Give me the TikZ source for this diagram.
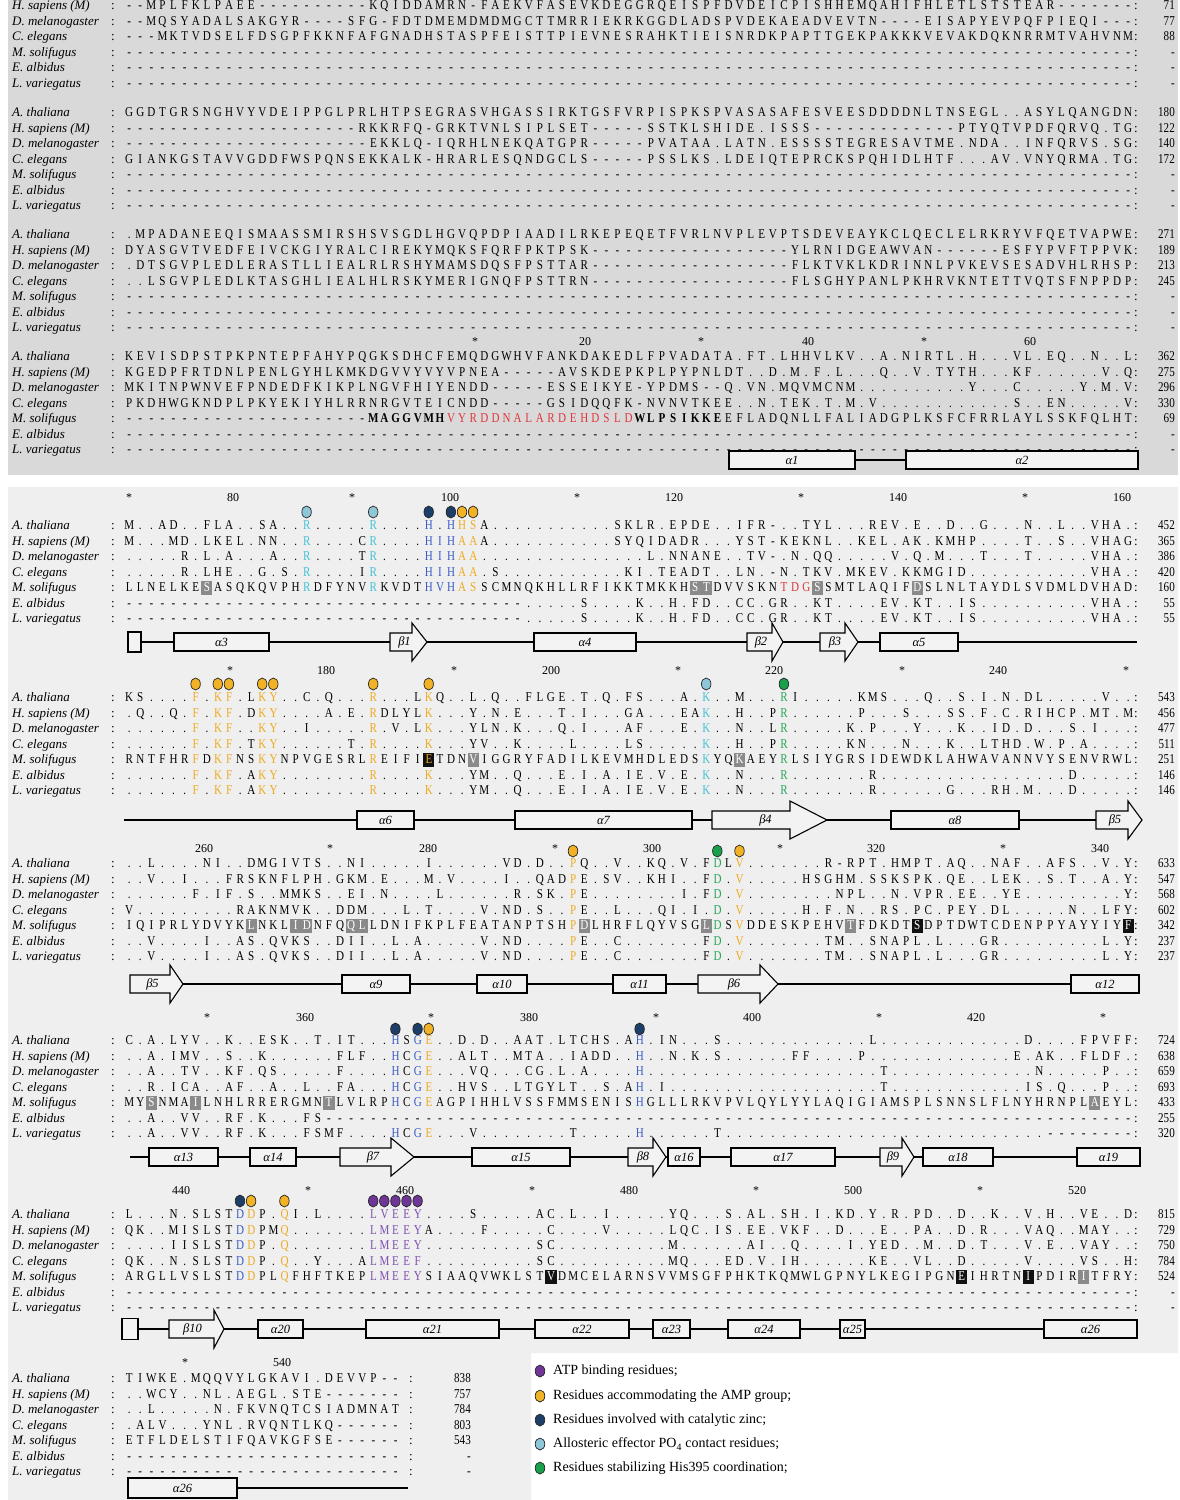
\documentclass[tikz,border=0pt]{standalone}
\usepackage{fontspec}
\setmainfont{Liberation Serif}
\newfontfamily\seqfont{Liberation Serif}[FakeStretch=0.82]
\usetikzlibrary{shapes.geometric}

\definecolor{panelA}{HTML}{D9D9D9}
\definecolor{panelB}{HTML}{EEEFEE}
\definecolor{rescyan}{HTML}{45C1D6}
\definecolor{resblue}{HTML}{3B5BC4}
\definecolor{resorange}{HTML}{EEAA22}
\definecolor{resgreen}{HTML}{2AA65A}
\definecolor{respurple}{HTML}{7D4FB0}
\definecolor{resred}{HTML}{E0353B}
\definecolor{hlgrey}{HTML}{8A8A8A}
\definecolor{hlblack}{HTML}{111111}
\definecolor{matp}{HTML}{6F3597}
\definecolor{mamp}{HTML}{F2B226}
\definecolor{mzn}{HTML}{1D3E66}
\definecolor{mpo}{HTML}{8EC8D8}
\definecolor{mhis}{HTML}{19A04B}
\definecolor{ssfill}{HTML}{F3F3F3}

\newlength\colw
\setlength\colw{11.1pt}
\setlength\fboxsep{0pt}

% residue colours and shading
\newcommand\rCy[1]{\textcolor{rescyan}{#1}}
\newcommand\rBl[1]{\textcolor{resblue}{#1}}
\newcommand\rOg[1]{\textcolor{resorange}{#1}}
\newcommand\rGn[1]{\textcolor{resgreen}{#1}}
\newcommand\rPu[1]{\textcolor{respurple}{#1}}
\newcommand\rRd[1]{\textcolor{resred}{#1}}
\newcommand\hlres[3]{\colorbox{#1}{\makebox[\colw]{\rule[-3.5pt]{0pt}{14pt}\textcolor{#2}{#3}}}}
\newcommand\rGy[1]{\hlres{hlgrey}{white}{#1}}
\newcommand\rBk[1]{\hlres{hlblack}{white}{#1}}
\newcommand\rBo[1]{\hlres{hlblack}{resorange}{#1}}

% one residue per column
\makeatletter
\newcommand\sqline[1]{\@tfor\sq@c:=#1\do{\expandafter\sq@put\sq@c\relax\@nil}}
\def\sq@put#1#2\@nil{\let\sq@next\sq@box
  \ifx#1\sqrun\let\sq@next\@firstofone\fi
  \ifx#1\sqgap\let\sq@next\@firstofone\fi
  \sq@next{#1#2}}
\def\sq@box#1{\makebox[\colw]{#1}}
\newcommand\sqrun[2]{\@tfor\sq@d:=#2\do{\makebox[\colw]{#1{\sq@d}}}}
\newcommand\sqgap[1]{{\count@=\z@\loop\ifnum\count@<#1\relax\makebox[\colw]{-}\advance\count@\@ne\repeat}}
\makeatother

% id, baseline, species, residues, end
\newcommand\seqrow[5]{%
  \node[spname] (#1-n) at (12,#2) {#3};
  \node[spcolon] (#1-c) at (113,#2) {:};
  \node[seqtext] (#1-s) at (123.45,#2) {\sqline{#4}};
  \node[spcolon] (#1-k) at (1136,#2) {:};
  \node[endnum] (#1-e) at (1175,#2) {#5};
}
\newcommand\seqrowshort[5]{%
  \node[spname] (#1-n) at (12,#2) {#3};
  \node[spcolon] (#1-c) at (113,#2) {:};
  \node[seqtext] (#1-s) at (123.45,#2) {\sqline{#4}};
  \node[spcolon] (#1-k) at (411,#2) {:};
  \node[endnum] (#1-e) at (471,#2) {#5};
}
% name, x1, x2, tip, y, label
\newcommand\strand[6]{%
  \draw[strandbox] (#2,#5-9) -- (#3,#5-9) -- (#3,#5-19) -- (#4,#5) -- (#3,#5+19) -- (#3,#5+9) -- (#2,#5+9) -- cycle;
  \node[sslabel] (#1) at ({(#2+#4)/2-4},#5) {#6};
}

\begin{document}
\begin{tikzpicture}[
    x=1pt, y=-1pt,
    spname/.style={anchor=base west, inner sep=0pt, font=\fontsize{13}{15}\selectfont\itshape},
    spcolon/.style={anchor=base, inner sep=0pt, font=\fontsize{13}{15}\selectfont},
    seqtext/.style={anchor=base west, inner sep=0pt, font=\seqfont\fontsize{13.5}{15}\selectfont},
    endnum/.style={anchor=base east, inner sep=0pt, font=\seqfont\fontsize{13.5}{15}\selectfont},
    ruler/.style={anchor=base, inner sep=0pt, font=\fontsize{12}{14}\selectfont},
    resmark/.style={ellipse, draw=black!85, line width=0.7pt, minimum width=9.5pt, minimum height=12pt, inner sep=0pt},
    helix/.style={rectangle, draw=black, line width=1.1pt, fill=ssfill, minimum height=18pt, inner sep=0pt, font=\fontsize{12.5}{14}\selectfont\itshape},
    strandbox/.style={draw=black, line width=1.1pt, fill=ssfill, line join=miter},
    sslabel/.style={inner sep=0pt, font=\fontsize{12.5}{14}\selectfont\itshape},
    ssline/.style={line width=2pt},
    legtext/.style={anchor=west, inner sep=0pt, font=\fontsize{14}{16}\selectfont}
]

% Canvas and panels
\useasboundingbox (0,0) rectangle (1180,1500);
\fill[white] (0,0) rectangle (1180,1500);
\fill[panelA] (8,0) rectangle (1178,474.5);
\fill[panelB] (8,487) -- (1178,487) -- (1178,1353) -- (531,1353) -- (531,1500) -- (8,1500) -- cycle;

% Block 1
\seqrow{b1hs}{9.5}{H. sapiens (M)}{--MPLFKLPAEE{\sqgap{10}}KQIDDAMRN-FAEKVFASEVKDEGGRQEISPFDVDEICPISHHEMQAHIFHLETLSTSTEAR{\sqgap{7}}}{71}
\seqrow{b1dm}{25}{D. melanogaster}{--MQSYADALSAKGYR----SFG-FDTDMEMDMDMGCTTMRRIEKRKGGDLADSPVDEKAEADVEVTN----EISAPYEVPQFPIEQI---}{77}
\seqrow{b1ce}{40.5}{C. elegans}{---MKTVDSELFDSGPFKKNFAFGNADHSTASPFEISTTPIEVNESRAHKTIEISNRDKPAPTTGEKPAKKKVEVAKDQKNRRMTVAHVNM}{88}
\seqrow{b1ms}{56}{M. solifugus}{{\sqgap{91}}}{-}
\seqrow{b1ea}{71.5}{E. albidus}{{\sqgap{91}}}{-}
\seqrow{b1lv}{87}{L. variegatus}{{\sqgap{91}}}{-}

% Block 2
\seqrow{b2at}{116.5}{A. thaliana}{GGDTGRSNGHVYVDEIPPGLPRLHTPSEGRASVHGASSIRKTGSFVRPISPKSPVASASAFESVEESDDDDNLTNSEGL..ASYLQANGDN}{180}
\seqrow{b2hs}{132}{H. sapiens (M)}{{\sqgap{21}}RKKRFQ-GRKTVNLSIPLSET{\sqgap{5}}SSTKLSHIDE.ISSS{\sqgap{13}}PTYQTVPDFQRVQ.TG}{122}
\seqrow{b2dm}{147.5}{D. melanogaster}{{\sqgap{22}}EKKLQ-IQRHLNEKQATGPR{\sqgap{5}}PVATAA.LATN.ESSSSTEGRESAVTME.NDA..INFQRVS.SG}{140}
\seqrow{b2ce}{163}{C. elegans}{GIANKGSTAVVGDDFWSPQNSEKKALK-HRARLESQNDGCLS{\sqgap{5}}PSSLKS.LDEIQTEPRCKSPQHIDLHTF...AV.VNYQRMA.TG}{172}
\seqrow{b2ms}{178.5}{M. solifugus}{{\sqgap{91}}}{-}
\seqrow{b2ea}{194}{E. albidus}{{\sqgap{91}}}{-}
\seqrow{b2lv}{209.5}{L. variegatus}{{\sqgap{91}}}{-}

% Block 3
\seqrow{b3at}{238.5}{A. thaliana}{.MPADANEEQISMAASSMIRSHSVSGDLHGVQPDPIAADILRKEPEQETFVRLNVPLEVPTSDEVEAYKCLQECLELRKRYVFQETVAPWE}{271}
\seqrow{b3hs}{254}{H. sapiens (M)}{DYASGVTVEDFEIVCKGIYRALCIREKYMQKSFQRFPKTPSK{\sqgap{18}}YLRNIDGEAWVAN{\sqgap{6}}ESFYPVFTPPVK}{189}
\seqrow{b3dm}{269.5}{D. melanogaster}{.DTSGVPLEDLERASTLLIEALRLRSHYMAMSDQSFPSTTAR{\sqgap{18}}FLKTVKLKDRINNLPVKEVSESADVHLRHSP}{213}
\seqrow{b3ce}{285}{C. elegans}{..LSGVPLEDLKTASGHLIEALHLRSKYMERIGNQFPSTTRN{\sqgap{18}}FLSGHYPANLPKHRVKNTETTVQTSFNPPDP}{245}
\seqrow{b3ms}{300.5}{M. solifugus}{{\sqgap{91}}}{-}
\seqrow{b3ea}{316}{E. albidus}{{\sqgap{91}}}{-}
\seqrow{b3lv}{331.5}{L. variegatus}{{\sqgap{91}}}{-}

% Block 4
\foreach \x/\t [count=\i] in {475/*,585/20,701/*,808/40,924/*,1030/60}
  \node[ruler] (r4-\i) at (\x,345) {\t};
\seqrow{b4at}{360.5}{A. thaliana}{KEVISDPSTPKPNTEPFAHYPQGKSDHCFEMQDGWHVFANKDAKEDLFPVADATA.FT.LHHVLKV..A.NIRTL.H...VL.EQ..N..L}{362}
\seqrow{b4hs}{376}{H. sapiens (M)}{KGEDPFRTDNLPENLGYHLKMKDGVVYVYVPNEA{\sqgap{5}}AVSKDEPKPLPYPNLDT..D.M.F.L...Q..V.TYTH...KF......V.Q}{275}
\seqrow{b4dm}{391.5}{D. melanogaster}{MKITNPWNVEFPNDEDFKIKPLNGVFHIYENDD{\sqgap{5}}ESSEIKYE-YPDMS--Q.VN.MQVMCNM..........Y...C.....Y.M.V}{296}
\seqrow{b4ce}{407}{C. elegans}{PKDHWGKNDPLPKYEKIYHLRRNRGVTEICNDD{\sqgap{5}}GSIDQQFK-NVNVTKEE..N.TEK.T.M.V............S..EN.....V}{330}
\seqrow{b4ms}{422.5}{M. solifugus}{{\sqgap{22}}{\sqrun\bfseries{MAGGVMH}}{\sqrun\rRd{VYRDDNALARDEHDSLD}}{\sqrun\bfseries{WLPSIKKE}}EFLADQNLLFALIADGPLKSFCFRRLAYLSSKFQLHT}{69}
\seqrow{b4ea}{438}{E. albidus}{{\sqgap{91}}}{-}
\seqrow{b4lv}{453.5}{L. variegatus}{{\sqgap{91}}}{-}
\coordinate (s4a) at (855,460);
\coordinate (s4b) at (906,460);
\draw[ssline] (s4a) -- (s4b);
\node[helix, minimum width=126pt] (a1) at (792,460) {α1};
\node[helix, minimum width=232pt] (a2) at (1022,460) {α2};

% Block 5
\foreach \x/\t [count=\i] in {129/*,233/80,352/*,450/100,577/*,674/120,801/*,898/140,1025/*,1122/160}
  \node[ruler] (r5-\i) at (\x,501) {\t};
\foreach \k/\c [count=\i] in {17/mpo,23/mpo,28/mzn,30/mzn,31/mamp,32/mamp}
  \node[resmark, fill=\c] (m5-\i) at ({129+(\k-1)*11.1},512) {};
\seqrow{b5at}{529.5}{A. thaliana}{M..AD..FLA..SA..{\rCy R}.....{\rCy R}....{\rBl H}.{\rBl H}{\rOg H}{\rOg S}A...........SKLR.EPDE..IFR-..TYL...REV.E..D..G...N..L..VHA.}{452}
\seqrow{b5hs}{545}{H. sapiens (M)}{M...MD.LKEL.NN..{\rCy R}....C{\rCy R}....{\rBl H}{\rBl I}{\rBl H}{\rOg A}{\rOg A}A...........SYQIDADR...YST-KEKNL..KEL.AK.KMHP....T..S..VHAG}{365}
\seqrow{b5dm}{560.5}{D. melanogaster}{.....R.L.A...A..{\rCy R}....T{\rCy R}....{\rBl H}{\rBl I}{\rBl H}{\rOg A}{\rOg A}...............L.NNANE..TV-.N.QQ.....V.Q.M...T...T.....VHA.}{386}
\seqrow{b5ce}{576}{C. elegans}{.....R.LHE..G.S.{\rCy R}....I{\rCy R}....{\rBl H}{\rBl I}{\rBl H}{\rOg A}{\rOg A}.S...........KI.TEADT..LN.-N.TKV.MKEV.KKMGID...........VHA.}{420}
\seqrow{b5ms}{591.5}{M. solifugus}{LLNELKE{\rGy S}ASQKQVPH{\rCy R}DFYNV{\rCy R}KVDT{\rBl H}{\rBl V}{\rBl H}{\rOg A}{\rOg S}SCMNQKHLLRFIKKTMKKH{\rGy S}{\rGy T}DVVSKN{\rRd T}{\rRd D}{\rRd G}{\rGy S}SMTLAQIF{\rGy D}SLNLTAYDLSVDMLDVHAD}{160}
\seqrow{b5ea}{607}{E. albidus}{{\sqgap{36}}.....S....K..H.FD..CC.GR..KT....EV.KT..IS..........VHA.}{55}
\seqrow{b5lv}{622.5}{L. variegatus}{{\sqgap{36}}.....S....K..H.FD..CC.GR..KT....EV.KT..IS..........VHA.}{55}
\coordinate (s5a) at (141,642);
\coordinate (s5b) at (1137,642);
\draw[ssline] (s5a) -- (s5b);
\node[helix, minimum width=13pt, minimum height=20pt] (h5x) at (134.5,642) {};
\node[helix, minimum width=95pt] (a3) at (221.5,642) {α3};
\strand{b1}{390}{412}{427}{642}{β1}
\node[helix, minimum width=102pt] (a4) at (585,642) {α4};
\strand{b2}{747}{772}{783}{642}{β2}
\strand{b3}{820}{845}{858}{642}{β3}
\node[helix, minimum width=78pt] (a5) at (919,642) {α5};

% Block 6
\foreach \x/\t [count=\i] in {230/*,326/180,454/*,551/200,678/*,774/220,902/*,998/240,1126/*}
  \node[ruler] (r6-\i) at (\x,674) {\t};
\foreach \k/\c [count=\i] in {7/mamp,9/mamp,10/mamp,13/mamp,14/mamp,23/mamp,28/mamp,53/mpo,60/mhis}
  \node[resmark, fill=\c] (m6-\i) at ({129+(\k-1)*11.1},684) {};
\seqrow{b6at}{701.5}{A. thaliana}{KS....{\rOg F}.{\rOg K}{\rOg F}.L{\rOg K}{\rOg Y}..C.Q...{\rOg R}...L{\rOg K}Q..L.Q..FLGE.T.Q.FS...A.{\rCy K}..M...{\rGn R}I.....KMS...Q..S.I.N.DL.....V..}{543}
\seqrow{b6hs}{717}{H. sapiens (M)}{.Q..Q.{\rOg F}.{\rOg K}{\rOg F}.D{\rOg K}{\rOg Y}....A.E.{\rOg R}DLYL{\rOg K}...Y.N.E...T.I...GA...EA{\rCy K}..H..P{\rGn R}......P...S...SS.F.C.RIHCP.MT.M}{456}
\seqrow{b6dm}{732.5}{D. melanogaster}{......{\rOg F}.{\rOg K}{\rOg F}..{\rOg K}{\rOg Y}..I.....{\rOg R}.V.L{\rOg K}...YLN.K...Q.I...AF...E.{\rCy K}..N..L{\rGn R}.....K.P...Y...K..ID.D...S.I...}{477}
\seqrow{b6ce}{748}{C. elegans}{......{\rOg F}.{\rOg K}{\rOg F}.T{\rOg K}{\rOg Y}......T.{\rOg R}....{\rOg K}...YV..K....L....LS.....{\rCy K}..H..P{\rGn R}.....KN...N...K..LTHD.W.P.A....}{511}
\seqrow{b6ms}{763.5}{M. solifugus}{RNTFHR{\rOg F}D{\rOg K}{\rOg F}NS{\rOg K}{\rOg Y}NPVGESRL{\rOg R}EIFI{\rBo E}TDN{\rGy V}IGGRYFADILKEVMHDLEDS{\rCy K}YQ{\rGy K}AEY{\rGn R}LSIYGRSIDEWDKLAHWAVANNVYSENVRWL}{251}
\seqrow{b6ea}{779}{E. albidus}{......{\rOg F}.{\rOg K}{\rOg F}.A{\rOg K}{\rOg Y}........{\rOg R}....{\rOg K}...YM..Q...E.I.A.IE.V.E.{\rCy K}..N...{\rGn R}.......R.................D.....}{146}
\seqrow{b6lv}{794.5}{L. variegatus}{......{\rOg F}.{\rOg K}{\rOg F}.A{\rOg K}{\rOg Y}........{\rOg R}....{\rOg K}...YM..Q...E.I.A.IE.V.E.{\rCy K}..N...{\rGn R}.......R......G...RH.M...D.....}{146}
\coordinate (s6a) at (124,820);
\coordinate (s6b) at (1096,820);
\draw[ssline] (s6a) -- (s6b);
\node[helix, minimum width=57pt] (a6) at (385.5,820) {α6};
\node[helix, minimum width=177pt] (a7) at (603.5,820) {α7};
\strand{b4}{712}{790}{827}{820}{β4}
\node[helix, minimum width=128pt] (a8) at (955,820) {α8};
\strand{b5}{1096}{1128}{1142}{820}{β5}

% Block 7
\foreach \x/\t [count=\i] in {204/260,330/*,428/280,555/*,652/300,780/*,876/320,1003/*,1100/340}
  \node[ruler] (r7-\i) at (\x,852) {\t};
\foreach \k/\c [count=\i] in {41/mamp,54/mhis,56/mamp}
  \node[resmark, fill=\c] (m7-\i) at ({129+(\k-1)*11.1},851) {};
\seqrow{b7at}{867.5}{A. thaliana}{..L....NI..DMGIVTS..NI.....I......VD.D..{\rOg P}Q..V..KQ.V.F{\rGn D}L{\rOg V}.......R-RPT.HMPT.AQ..NAF..AFS..V.Y}{633}
\seqrow{b7hs}{883}{H. sapiens (M)}{..V..I...FRSKNFLPH.GKM.E...M.V....I..QAD{\rOg P}E.SV..KHI..F{\rGn D}.{\rOg V}.....HSGHM.SSKSPK.QE..LEK..S.T..A.Y}{547}
\seqrow{b7dm}{898.5}{D. melanogaster}{......F.IF.S..MMKS..EI.N....L......R.SK.{\rOg P}E........I.F{\rGn D}.{\rOg V}........NPL..N.VPR.EE..YE.........Y}{568}
\seqrow{b7ce}{914}{C. elegans}{V.........RAKNMVK..DDM...L.T....V.ND.S..{\rOg P}E..L...QI.I.{\rGn D}.{\rOg V}.....H.F.N..RS.PC.PEY.DL.....N..LFY}{602}
\seqrow{b7ms}{929.5}{M. solifugus}{IQIPRLYDVYK{\rGy L}NKL{\rGy I}{\rGy D}NFQ{\rGy Q}{\rGy L}LDNIFKPLFEATANPTSH{\rOg P}{\rGy D}LHRFLQYVSG{\rGy L}{\rGn D}S{\rOg V}DDESKPEHV{\rGy T}FDKDT{\rBk S}DPTDWTCDENPPYAYYIY{\rBk F}}{342}
\seqrow{b7ea}{945}{E. albidus}{..V....I..AS.QVKS..DII..L.A.....V.ND....{\rOg P}E..C.......F{\rGn D}.{\rOg V}.......TM..SNAPL.L...GR.........L.Y}{237}
\seqrow{b7lv}{960.5}{L. variegatus}{..V....I..AS.QVKS..DII..L.A.....V.ND....{\rOg P}E..C.......F{\rGn D}.{\rOg V}.......TM..SNAPL.L...GR.........L.Y}{237}
\coordinate (s7a) at (170,984);
\coordinate (s7b) at (1071,984);
\draw[ssline] (s7a) -- (s7b);
\strand{b5b}{130}{170}{183}{984}{β5}
\node[helix, minimum width=68pt] (a9) at (376,984) {α9};
\node[helix, minimum width=50pt] (a10) at (502,984) {α10};
\node[helix, minimum width=53pt] (a11) at (639.5,984) {α11};
\strand{b6}{698}{760}{778}{984}{β6}
\node[helix, minimum width=68pt] (a12) at (1105,984) {α12};

% Block 8
\foreach \x/\t [count=\i] in {207/*,305/360,431/*,529/380,656/*,752/400,879/*,976/420,1103/*}
  \node[ruler] (r8-\i) at (\x,1021) {\t};
\foreach \k/\c [count=\i] in {25/mzn,27/mzn,28/mamp,47/mzn}
  \node[resmark, fill=\c] (m8-\i) at ({129+(\k-1)*11.1},1029) {};
\seqrow{b8at}{1044.5}{A. thaliana}{C.A.LYV..K..ESK..T.IT...{\rBl H}S{\rBl G}{\rOg E}..D.D..AAT.LTCHS.A{\rBl H}.IN...S.............L.............D....FPVFF}{724}
\seqrow{b8hs}{1060}{H. sapiens (M)}{..A.IMV..S..K......FLF..{\rBl H}C{\rBl G}{\rOg E}..ALT..MTA..IADD..{\rBl H}..N.K.S......FF....P.............E.AK..FLDF.}{638}
\seqrow{b8dm}{1075.5}{D. melanogaster}{..A..TV..KF.QS.....F....{\rBl H}C{\rBl G}{\rOg E}...VQ...CG.L.A....{\rBl H}.....................T.............N.....P..}{659}
\seqrow{b8ce}{1091}{C. elegans}{..R.ICA..AF..A..L..FA...{\rBl H}C{\rBl G}{\rOg E}..HVS..LTGYLT..S.A{\rBl H}.I...................T............IS.Q...P..}{693}
\seqrow{b8ms}{1106.5}{M. solifugus}{MY{\rGy S}NMA{\rGy I}LNHLRRERGMN{\rGy T}LVLRP{\rBl H}C{\rBl G}{\rOg E}AGPIHHLVSSFMMSENIS{\rBl H}GLLLRKVPVLQYLYYLAQIGIAMSPLSNNSLFLNYHRNPL{\rGy A}EYL}{433}
\seqrow{b8ea}{1122}{E. albidus}{..A..VV..RF.K...FS{\sqgap{73}}}{255}
\seqrow{b8lv}{1137.5}{L. variegatus}{..A..VV..RF.K...FSMF....{\rBl H}C{\rBl G}{\rOg E}...V........T.....{\rBl H}......T.............................{\sqgap{8}}}{320}
\coordinate (s8a) at (130,1157);
\coordinate (s8b) at (1077,1157);
\draw[ssline] (s8a) -- (s8b);
\node[helix, minimum width=69pt] (a13) at (183.5,1157) {α13};
\node[helix, minimum width=46pt] (a14) at (273,1157) {α14};
\strand{b7}{340}{391}{414}{1157}{β7}
\node[helix, minimum width=98pt] (a15) at (521,1157) {α15};
\strand{b8}{628}{653}{666}{1157}{β8}
\node[helix, minimum width=32pt] (a16) at (684,1157) {α16};
\node[helix, minimum width=104pt] (a17) at (783,1157) {α17};
\strand{b9}{880}{902}{914}{1157}{β9}
\node[helix, minimum width=70pt] (a18) at (958,1157) {α18};
\node[helix, minimum width=63pt] (a19) at (1108.5,1157) {α19};

% Block 9
\foreach \x/\t [count=\i] in {181/440,308/*,405/460,532/*,629/480,756/*,853/500,980/*,1077/520}
  \node[ruler] (r9-\i) at (\x,1194) {\t};
\foreach \k/\c [count=\i] in {11/mzn,12/mamp,15/mamp,23/matp,24/matp,25/matp,26/matp,27/matp}
  \node[resmark, fill=\c] (m9-\i) at ({129+(\k-1)*11.1},1201) {};
\seqrow{b9at}{1218.5}{A. thaliana}{L...N.SLST{\rBl D}{\rOg D}P.{\rOg Q}I.L....{\rPu L}{\rPu V}{\rPu E}{\rPu E}{\rPu Y}....S.....AC.L..I.....YQ...S.AL.SH.I.KD.Y.R.PD..D..K..V.H..VE..D}{815}
\seqrow{b9hs}{1234}{H. sapiens (M)}{QK..MISLST{\rBl D}{\rOg D}PM{\rOg Q}.......{\rPu L}{\rPu M}{\rPu E}{\rPu E}{\rPu Y}A....F.....C....V.....LQC.IS.EE.VKF..D...E..PA..D.R...VAQ..MAY..}{729}
\seqrow{b9dm}{1249.5}{D. melanogaster}{....IISLST{\rBl D}{\rOg D}P.{\rOg Q}.......{\rPu L}{\rPu M}{\rPu E}{\rPu E}{\rPu Y}..........SC..........M......AI..Q....I.YED..M..D.T...V.E..VAY..}{750}
\seqrow{b9ce}{1265}{C. elegans}{QK..N.SLST{\rBl D}{\rOg D}P.{\rOg Q}..Y...A{\rPu L}{\rPu M}{\rPu E}{\rPu E}{\rPu F}..........SC..........MQ...ED.V.IH......KE..VL..D.....V....VS..H}{784}
\seqrow{b9ms}{1280.5}{M. solifugus}{ARGLLVSLST{\rBl D}{\rOg D}PL{\rOg Q}FHFTKEP{\rPu L}{\rPu M}{\rPu E}{\rPu E}{\rPu Y}SIAAQVWKLST{\rBk V}DMCELARNSVVMSGFPHKTKQMWLGPNYLKEGIPGN{\rBk E}IHRTN{\rBk I}PDIR{\rGy I}TFRY}{524}
\seqrow{b9ea}{1296}{E. albidus}{{\sqgap{91}}}{-}
\seqrow{b9lv}{1311.5}{L. variegatus}{{\sqgap{91}}}{-}
\coordinate (s9a) at (138,1329);
\coordinate (s9b) at (1044,1329);
\draw[ssline] (s9a) -- (s9b);
\node[helix, minimum width=16pt, minimum height=21pt] (h9x) at (130,1329) {};
\strand{b10}{169}{214}{224}{1329}{β10}
\node[helix, minimum width=45pt] (a20) at (280.5,1329) {α20};
\node[helix, minimum width=133pt] (a21) at (432.5,1329) {α21};
\node[helix, minimum width=94pt] (a22) at (582,1329) {α22};
\node[helix, minimum width=37pt] (a23) at (671.5,1329) {α23};
\node[helix, minimum width=72pt] (a24) at (764,1329) {α24};
\node[helix, minimum width=25pt] (a25) at (852.5,1329) {α25};
\node[helix, minimum width=93pt] (a26) at (1090.5,1329) {α26};

% Block 10
\foreach \x/\t [count=\i] in {185/*,282/540}
  \node[ruler] (r10-\i) at (\x,1366) {\t};
\seqrowshort{b10at}{1382.5}{A. thaliana}{TIWKE.MQQVYLGKAVI.DEVVP--}{838}
\seqrowshort{b10hs}{1398}{H. sapiens (M)}{..WCY..NL.AEGL.STE{\sqgap{7}}}{757}
\seqrowshort{b10dm}{1413.5}{D. melanogaster}{..L.....N.FKVNQTCSIADMNAT}{784}
\seqrowshort{b10ce}{1429}{C. elegans}{.ALV...YNL.RVQNTLKQ{\sqgap{6}}}{803}
\seqrowshort{b10ms}{1444.5}{M. solifugus}{ETFLDELSTIFQAVKGFSE{\sqgap{6}}}{543}
\seqrowshort{b10ea}{1460}{E. albidus}{{\sqgap{25}}}{-}
\seqrowshort{b10lv}{1475.5}{L. variegatus}{{\sqgap{25}}}{-}
\coordinate (s10a) at (237,1488);
\coordinate (s10b) at (408,1488);
\draw[ssline] (s10a) -- (s10b);
\node[helix, minimum width=109pt, minimum height=20pt] (a26b) at (182.5,1488) {α26};

% Legend
\node[resmark, fill=matp] (lg1) at (540,1371) {};
\node[legtext] (lg1t) at (553,1371) {ATP binding residues;};
\node[resmark, fill=mamp] (lg2) at (540,1396) {};
\node[legtext] (lg2t) at (553,1396) {Residues accommodating the AMP group;};
\node[resmark, fill=mzn] (lg3) at (540,1420) {};
\node[legtext] (lg3t) at (553,1420) {Residues involved with catalytic zinc;};
\node[resmark, fill=mpo] (lg4) at (540,1444) {};
\node[legtext] (lg4t) at (553,1444) {Allosteric effector PO\textsubscript{4} contact residues;};
\node[resmark, fill=mhis] (lg5) at (540,1468) {};
\node[legtext] (lg5t) at (553,1468) {Residues stabilizing His395 coordination;};

\end{tikzpicture}
\end{document}
